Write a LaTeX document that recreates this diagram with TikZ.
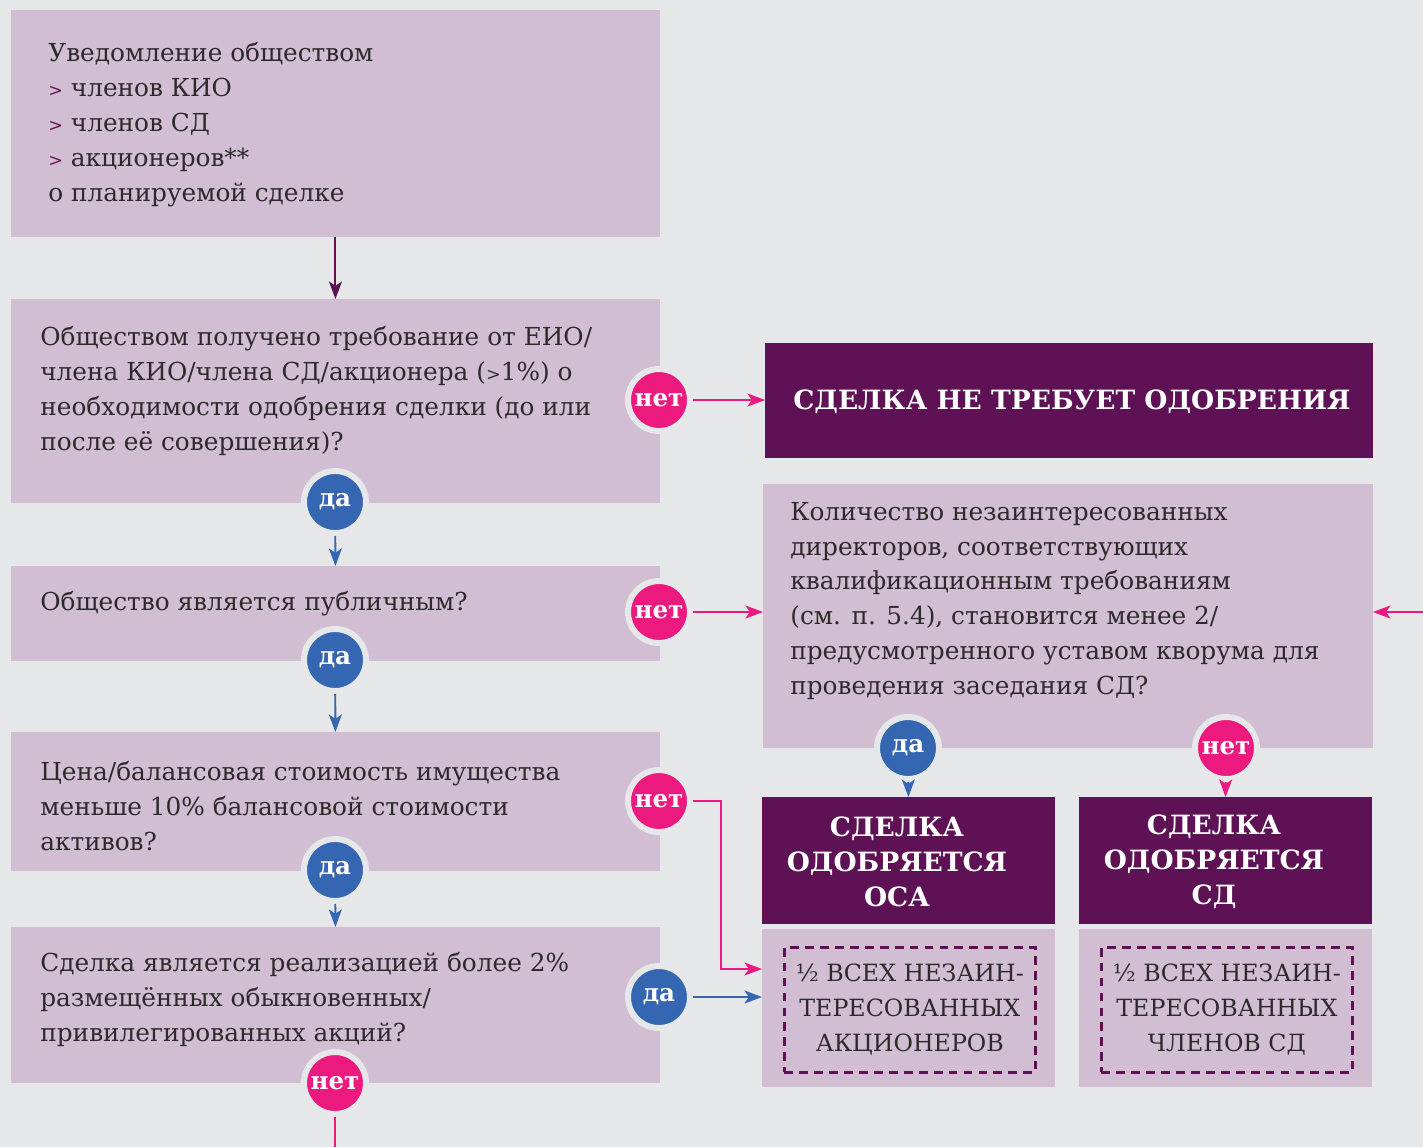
\documentclass[tikz,border=0pt]{standalone}
\usepackage{fontspec}
\setmainfont{DejaVu Serif}
\usetikzlibrary{arrows.meta}
\definecolor{bgrey}{HTML}{E6E7E9}
\definecolor{lilac}{HTML}{D1BED3}
\definecolor{plum}{HTML}{5E1255}
\definecolor{pinkm}{HTML}{EC1A7F}
\definecolor{bluem}{HTML}{3566B1}
\definecolor{ink}{HTML}{2E2A2B}
\newcommand\chev{{\fontsize{10}{10}\selectfont>}}
\tikzset{
  lbox/.style={fill=lilac,anchor=north west,inner sep=0pt,outer sep=0pt,minimum width=12.98cm},
  dbox/.style={fill=plum,anchor=north west,inner sep=0pt,outer sep=0pt},
  htxt/.style={text=white,align=center,inner sep=0pt,font=\fontsize{15.1}{19.9}\selectfont\bfseries},
  txt/.style={anchor=west,align=left,inner sep=0pt,text=ink,font=\fontsize{14.1}{19.9}\selectfont},
  badge/.style={circle,draw=bgrey,line width=3.4pt,minimum size=1.24cm,inner sep=0pt,text=white,font=\fontsize{14}{14}\selectfont\bfseries},
  yes/.style={badge,fill=bluem},
  no/.style={badge,fill=pinkm},
  dashbox/.style={draw=plum,dashed,dash pattern=on 5pt off 3.5pt,line width=1.6pt,anchor=north west,minimum width=5.02cm,minimum height=2.5cm,inner sep=0pt,align=center,text=ink,font=\fontsize{13.5}{19.9}\selectfont},
  pk/.style={pinkm,line width=1.1pt},
  bl/.style={bluem,line width=1.1pt},
}
\begin{document}
\begin{tikzpicture}[x=0.02cm,y=-0.02cm,>={Stealth[length=10pt,width=7.4pt,inset=2.5pt]}]
\fill[bgrey] (0,0) rectangle (1423,1147);
\useasboundingbox (0,0) rectangle (1423,1147);
\node[lbox,minimum height=4.54cm] (b1) at (11,10) {};
\node[lbox,minimum height=4.08cm] (b2) at (11,299) {};
\node[lbox,minimum height=1.9cm] (b3) at (11,566) {};
\node[lbox,minimum height=2.78cm] (b5) at (11,732) {};
\node[lbox,minimum height=3.12cm] (b6) at (11,927) {};
\node[lbox,minimum width=12.2cm,minimum height=5.28cm] (b4) at (763,484) {};
\node[dbox,minimum width=12.16cm,minimum height=2.3cm] (d1) at (765,343) {};
\node[dbox,minimum width=5.86cm,minimum height=2.54cm] (d2) at (762,797) {};
\node[dbox,minimum width=5.86cm,minimum height=2.54cm] (d3) at (1079,797) {};
\node[htxt] (d1t) at (1072,402) {СДЕЛКА НЕ ТРЕБУЕТ ОДОБРЕНИЯ};
\node[htxt] (d2t) at (897,862) {СДЕЛКА\\ОДОБРЯЕТСЯ\\ОСА};
\node[htxt] (d3t) at (1214,862) {СДЕЛКА\\ОДОБРЯЕТСЯ\\СД};
\node[lbox,minimum width=5.86cm,minimum height=3.16cm] (l2) at (762,929) {};
\node[lbox,minimum width=5.86cm,minimum height=3.16cm] (l3) at (1079,929) {};
\node[dashbox] (q2) at (783,946) {½ ВСЕХ НЕЗАИН-\\ТЕРЕСОВАННЫХ\\АКЦИОНЕРОВ};
\node[dashbox] (q3) at (1100,946) {½ ВСЕХ НЕЗАИН-\\ТЕРЕСОВАННЫХ\\ЧЛЕНОВ СД};
\node[txt] (t1) at (48,125) {Уведомление обществом\\{\color{plum}\chev} членов КИО\\{\color{plum}\chev} членов СД\\{\color{plum}\chev} акционеров**\\о планируемой сделке};
\node[txt] (t2) at (40,391) {Обществом получено требование от ЕИО/\\члена КИО/члена СД/акционера (\chev1\%) о\\необходимости одобрения сделки (до или\\после её совершения)?};
\node[txt] (t3) at (40,604) {Общество является публичным?};
\node[txt] (t5) at (40,806) {Цена/балансовая стоимость имущества\\меньше 10\% балансовой стоимости\\активов?};
\node[txt] (t6) at (40,999) {Сделка является реализацией более 2\%\\размещённых обыкновенных/\\привилегированных акций?};
\node[txt] (t4) at (790,601) {Количество незаинтересованных\\директоров, соответствующих\\квалификационным требованиям\\(см. п. 5.4), становится менее 2/\\предусмотренного уставом кворума для\\проведения заседания СД?};
\node[no] (n2) at (659,400) {нет};
\node[yes] (y2) at (335,502) {да};
\node[no] (n3) at (659,612) {нет};
\node[yes] (y3) at (335,660) {да};
\node[no] (n5) at (659,801) {нет};
\node[yes] (y5) at (335,870) {да};
\node[yes] (y6) at (659,997) {да};
\node[no] (n6) at (335,1083) {нет};
\node[yes] (y4) at (908,748) {да};
\node[no] (n4) at (1226,748) {нет};
\coordinate (rin) at (1423,612);
\coordinate (bout) at (335,1147);
\coordinate (k5) at (721,969);
\draw[->,plum,line width=1.1pt] (b1.south) -- (b2.north);
\draw[->,bl] (y2) -- (b3.north);
\draw[->,bl] (y3) -- (b5.north);
\draw[->,bl] (y5) -- (b6.north);
\draw[->,bl] (y6) -- (y6 -| l2.west);
\draw[->,bl] (y4) -- (d2.north);
\draw[->,pk] (n4) -- (d3.north);
\draw[->,pk] (n2) -- (n2 -| d1.west);
\draw[->,pk] (n3) -- (n3 -| b4.west);
\draw[->,pk] (rin) -- (rin -| b4.east);
\draw[->,pk] (n5) -| (k5) -- (k5 -| l2.west);
\draw[pk] (n6) -- (bout);
\end{tikzpicture}
\end{document}
